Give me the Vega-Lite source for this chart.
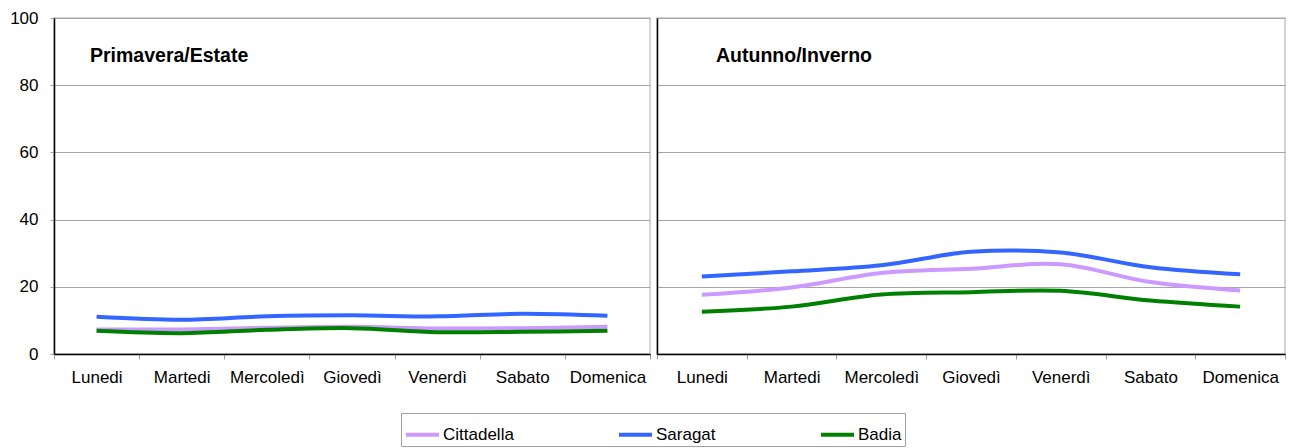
{
  "$schema": "https://vega.github.io/schema/vega-lite/v6.json",
  "padding": {"left": 8, "top": 8, "right": 5, "bottom": 0},
  "background": "white",
  "datasets": {
    "d": [
      {"season": "Primavera/Estate", "site": "Cittadella", "day": "Lunedi", "value": 7.3},
      {"season": "Primavera/Estate", "site": "Cittadella", "day": "Martedi", "value": 7.3},
      {"season": "Primavera/Estate", "site": "Cittadella", "day": "Mercoledì", "value": 7.8},
      {"season": "Primavera/Estate", "site": "Cittadella", "day": "Giovedì", "value": 8.1},
      {"season": "Primavera/Estate", "site": "Cittadella", "day": "Venerdì", "value": 7.6},
      {"season": "Primavera/Estate", "site": "Cittadella", "day": "Sabato", "value": 7.7},
      {"season": "Primavera/Estate", "site": "Cittadella", "day": "Domenica", "value": 8.1},
      {"season": "Primavera/Estate", "site": "Saragat", "day": "Lunedi", "value": 11.1},
      {"season": "Primavera/Estate", "site": "Saragat", "day": "Martedi", "value": 10.2},
      {"season": "Primavera/Estate", "site": "Saragat", "day": "Mercoledì", "value": 11.2},
      {"season": "Primavera/Estate", "site": "Saragat", "day": "Giovedì", "value": 11.5},
      {"season": "Primavera/Estate", "site": "Saragat", "day": "Venerdì", "value": 11.2},
      {"season": "Primavera/Estate", "site": "Saragat", "day": "Sabato", "value": 12.0},
      {"season": "Primavera/Estate", "site": "Saragat", "day": "Domenica", "value": 11.4},
      {"season": "Primavera/Estate", "site": "Badia", "day": "Lunedi", "value": 6.9},
      {"season": "Primavera/Estate", "site": "Badia", "day": "Martedi", "value": 6.2},
      {"season": "Primavera/Estate", "site": "Badia", "day": "Mercoledì", "value": 7.2},
      {"season": "Primavera/Estate", "site": "Badia", "day": "Giovedì", "value": 7.7},
      {"season": "Primavera/Estate", "site": "Badia", "day": "Venerdì", "value": 6.5},
      {"season": "Primavera/Estate", "site": "Badia", "day": "Sabato", "value": 6.6},
      {"season": "Primavera/Estate", "site": "Badia", "day": "Domenica", "value": 6.9},
      {"season": "Autunno/Inverno", "site": "Cittadella", "day": "Lunedi", "value": 17.6},
      {"season": "Autunno/Inverno", "site": "Cittadella", "day": "Martedi", "value": 19.8},
      {"season": "Autunno/Inverno", "site": "Cittadella", "day": "Mercoledì", "value": 24.1},
      {"season": "Autunno/Inverno", "site": "Cittadella", "day": "Giovedì", "value": 25.4},
      {"season": "Autunno/Inverno", "site": "Cittadella", "day": "Venerdì", "value": 26.7},
      {"season": "Autunno/Inverno", "site": "Cittadella", "day": "Sabato", "value": 21.4},
      {"season": "Autunno/Inverno", "site": "Cittadella", "day": "Domenica", "value": 18.9},
      {"season": "Autunno/Inverno", "site": "Saragat", "day": "Lunedi", "value": 23.1},
      {"season": "Autunno/Inverno", "site": "Saragat", "day": "Martedi", "value": 24.6},
      {"season": "Autunno/Inverno", "site": "Saragat", "day": "Mercoledì", "value": 26.4},
      {"season": "Autunno/Inverno", "site": "Saragat", "day": "Giovedì", "value": 30.4},
      {"season": "Autunno/Inverno", "site": "Saragat", "day": "Venerdì", "value": 30.2},
      {"season": "Autunno/Inverno", "site": "Saragat", "day": "Sabato", "value": 25.8},
      {"season": "Autunno/Inverno", "site": "Saragat", "day": "Domenica", "value": 23.7},
      {"season": "Autunno/Inverno", "site": "Badia", "day": "Lunedi", "value": 12.6},
      {"season": "Autunno/Inverno", "site": "Badia", "day": "Martedi", "value": 14.1},
      {"season": "Autunno/Inverno", "site": "Badia", "day": "Mercoledì", "value": 17.7},
      {"season": "Autunno/Inverno", "site": "Badia", "day": "Giovedì", "value": 18.4},
      {"season": "Autunno/Inverno", "site": "Badia", "day": "Venerdì", "value": 18.8},
      {"season": "Autunno/Inverno", "site": "Badia", "day": "Sabato", "value": 15.9},
      {"season": "Autunno/Inverno", "site": "Badia", "day": "Domenica", "value": 14.1}
    ]
  },
  "spacing": 3,
  "hconcat": [
    {
      "width": 596,
      "height": 336,
      "layer": [
        {
          "data": {"name": "d"},
          "transform": [{"filter": "datum.season === 'Primavera/Estate'"}],
          "mark": {"type": "line", "interpolate": "catmull-rom", "strokeWidth": 4},
          "encoding": {
            "x": {"field": "day", "type": "nominal", "bandPosition": 0.5,
                  "sort": ["Lunedi", "Martedi", "Mercoledì", "Giovedì", "Venerdì", "Sabato", "Domenica"],
                  "scale": {"type": "band", "paddingInner": 0, "paddingOuter": 0},
                  "axis": {"title": null, "labelAngle": 0, "tickBand": "extent", "tickSize": 5, "labelPadding": 10, "labelOverlap": false, "labelBound": false}},
            "y": {"field": "value", "type": "quantitative", "scale": {"domain": [0, 100], "nice": false},
                  "axis": {"title": null, "values": [0, 20, 40, 60, 80, 100], "tickSize": 4, "labelPadding": 12, "grid": true}},
            "color": {"field": "site", "type": "nominal",
                      "scale": {"domain": ["Cittadella", "Saragat", "Badia"], "range": ["#CC99FF", "#3366FF", "#008000"]}}
          }
        },
        {
          "data": {"values": [{"title": "Primavera/Estate"}]},
          "mark": {"type": "text", "align": "left", "baseline": "alphabetic", "dx": 36, "fontSize": 19.5, "fontWeight": "bold", "font": "Liberation Sans", "color": "black"},
          "encoding": {
            "x": {"datum": "Lunedi", "type": "nominal", "bandPosition": 0},
            "y": {"datum": 87, "type": "quantitative"},
            "text": {"field": "title"}
          }
        }
      ]
    },
    {
      "width": 628,
      "height": 336,
      "layer": [
        {
          "data": {"name": "d"},
          "transform": [{"filter": "datum.season === 'Autunno/Inverno'"}],
          "mark": {"type": "line", "interpolate": "catmull-rom", "strokeWidth": 4},
          "encoding": {
            "x": {"field": "day", "type": "nominal", "bandPosition": 0.5,
                  "sort": ["Lunedi", "Martedi", "Mercoledì", "Giovedì", "Venerdì", "Sabato", "Domenica"],
                  "scale": {"type": "band", "paddingInner": 0, "paddingOuter": 0},
                  "axis": {"title": null, "labelAngle": 0, "tickBand": "extent", "tickSize": 5, "labelPadding": 10, "labelOverlap": false, "labelBound": false}},
            "y": {"field": "value", "type": "quantitative", "scale": {"domain": [0, 100], "nice": false},
                  "axis": {"title": null, "values": [0, 20, 40, 60, 80, 100], "labels": false, "ticks": false, "grid": true}},
            "color": {"field": "site", "type": "nominal",
                      "scale": {"domain": ["Cittadella", "Saragat", "Badia"], "range": ["#CC99FF", "#3366FF", "#008000"]}}
          }
        },
        {
          "data": {"values": [{"title": "Autunno/Inverno"}]},
          "mark": {"type": "text", "align": "left", "baseline": "alphabetic", "dx": 59, "fontSize": 19.5, "fontWeight": "bold", "font": "Liberation Sans", "color": "black"},
          "encoding": {
            "x": {"datum": "Lunedi", "type": "nominal", "bandPosition": 0},
            "y": {"datum": 87, "type": "quantitative"},
            "text": {"field": "title"}
          }
        }
      ]
    }
  ],
  "resolve": {"scale": {"y": "independent", "x": "independent"}},
  "config": {
    "font": "Liberation Sans",
    "view": {"stroke": "#d4d4d4", "strokeWidth": 2},
    "axis": {"domainColor": "black", "domainWidth": 1.5, "tickColor": "#a0a0a0", "gridColor": "#a6a6a6", "gridWidth": 1,
             "labelFont": "Liberation Sans", "labelFontSize": 17, "labelColor": "black"},
    "legend": {"orient": "none", "legendX": 347, "legendY": 395, "direction": "horizontal", "title": null,
               "symbolType": "stroke", "symbolStrokeWidth": 4, "symbolSize": 1089, "labelFontSize": 17, "labelFont": "Liberation Sans",
               "labelColor": "black", "columnPadding": 97, "labelOffset": 2, "padding": 3, "fillColor": "white", "strokeColor": "#a0a0a0"}
  }
}
